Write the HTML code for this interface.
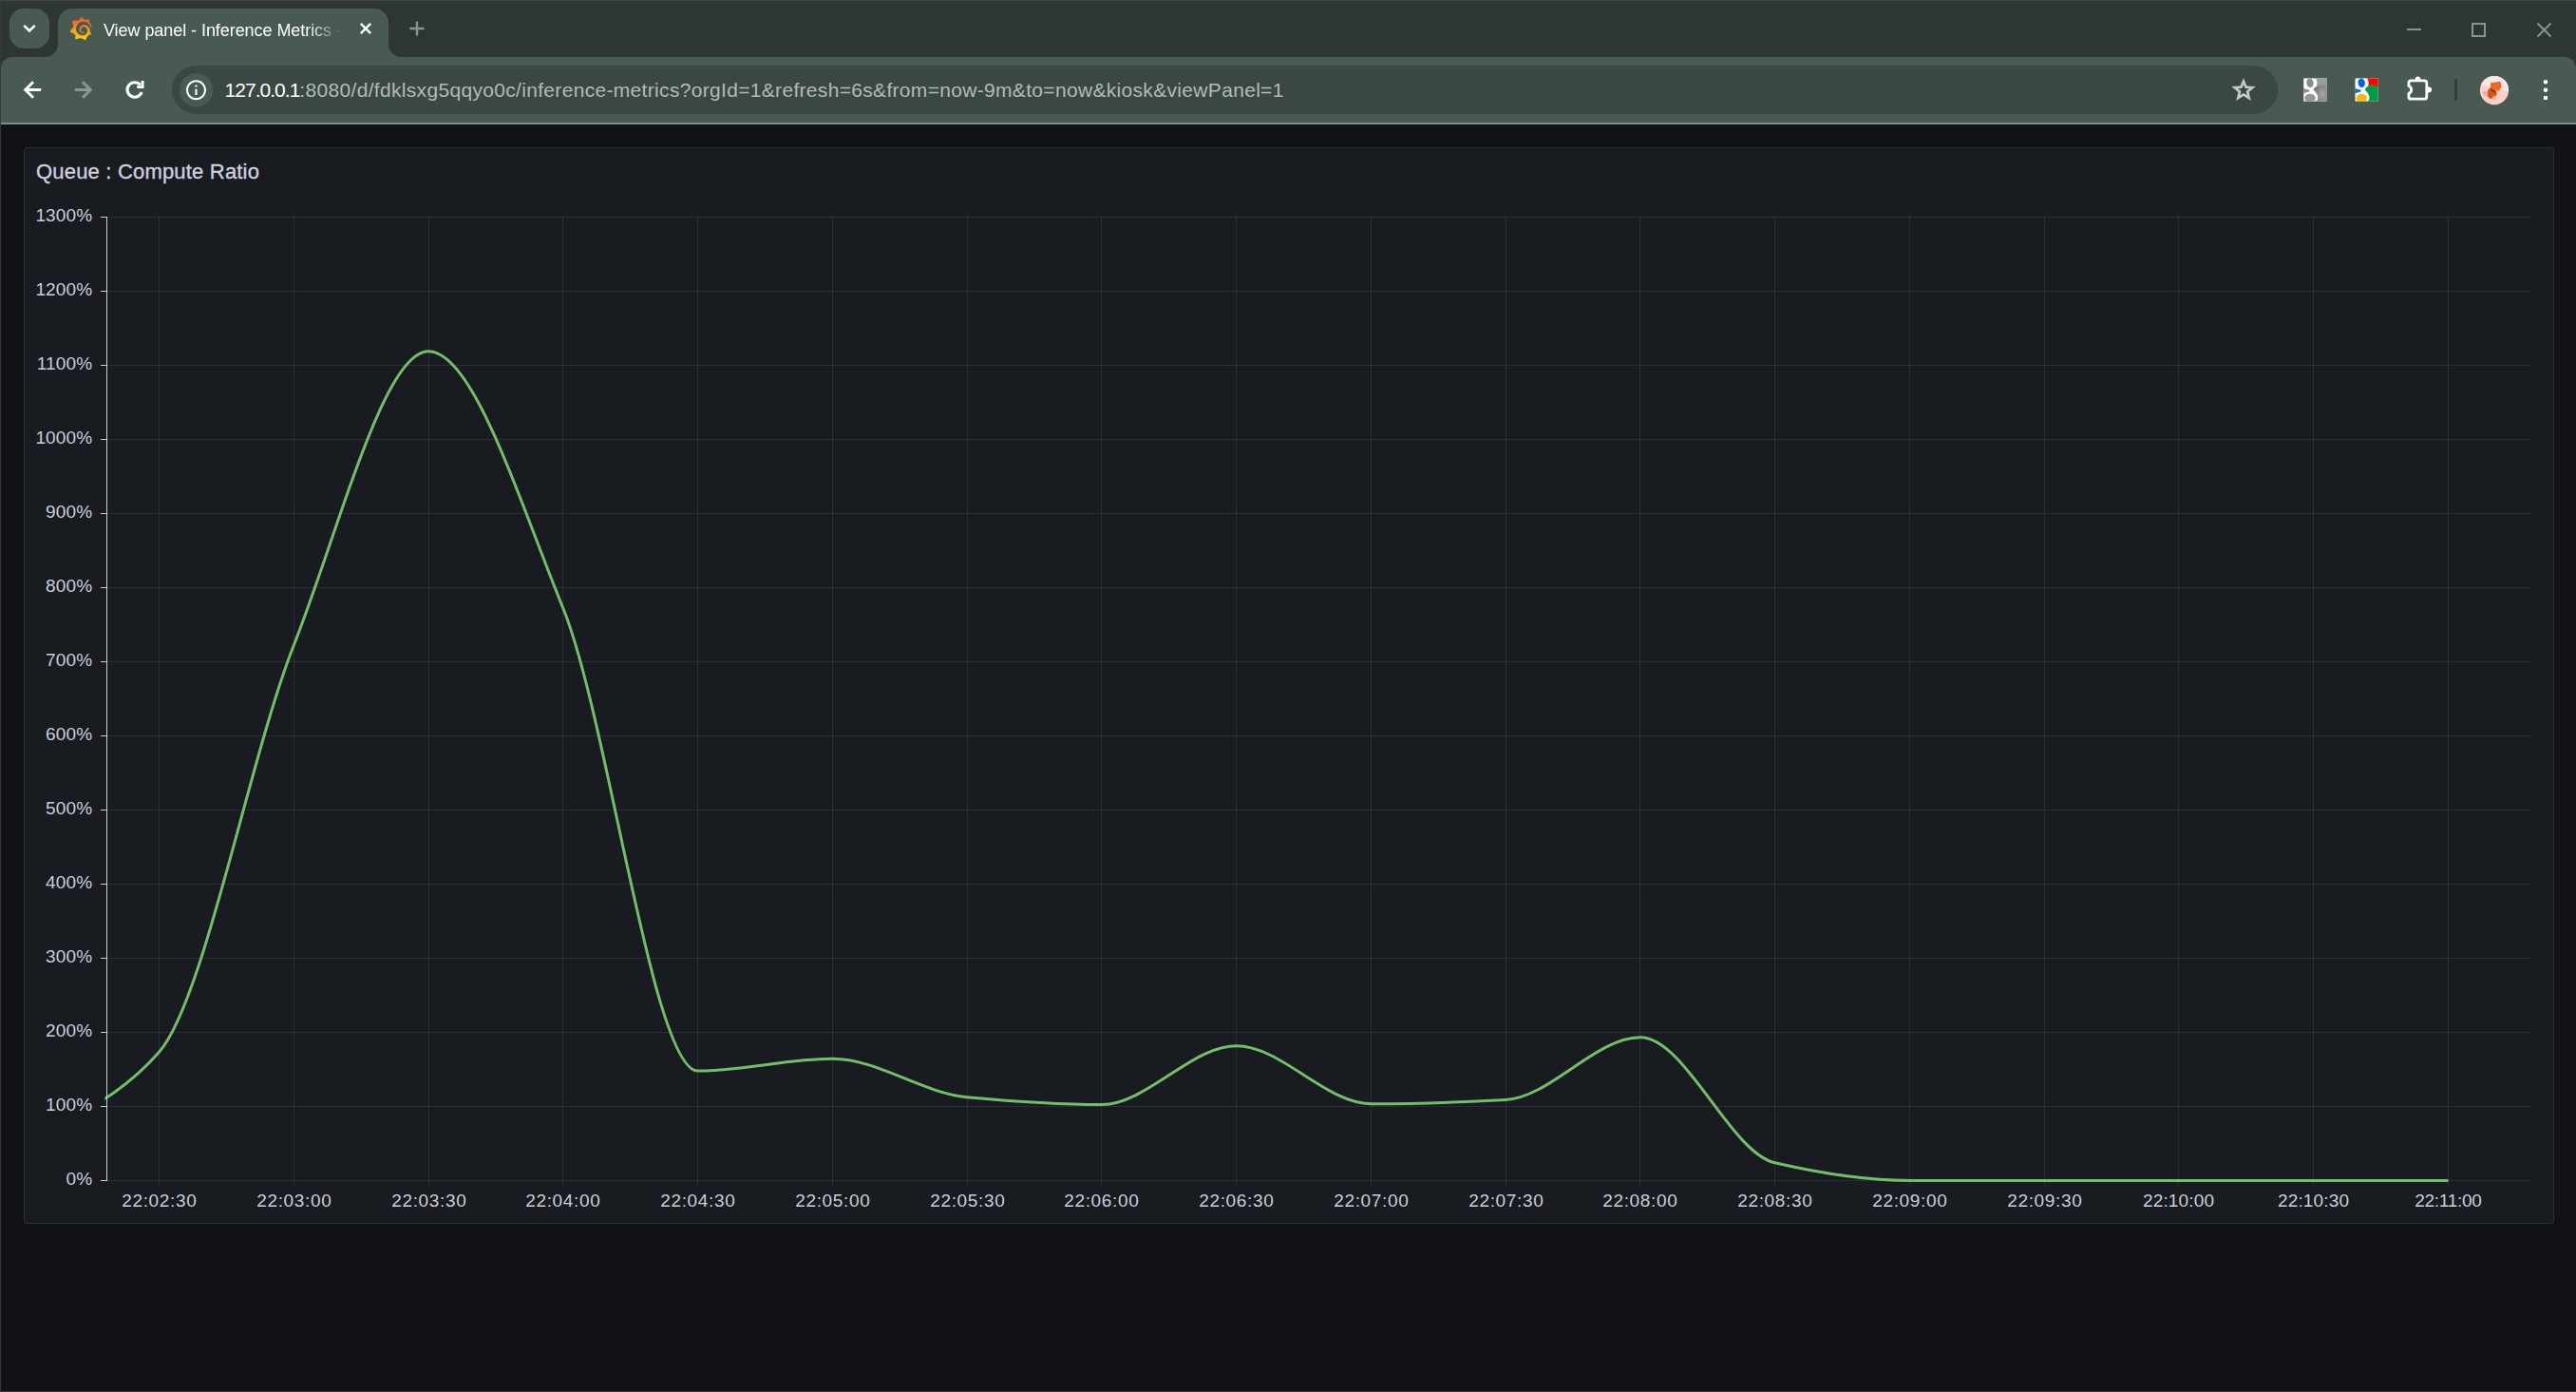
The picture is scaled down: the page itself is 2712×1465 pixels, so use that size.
<!DOCTYPE html>
<html><head><meta charset="utf-8"><title>View panel - Inference Metrics</title>
<style>
html,body{margin:0;padding:0}
body{width:2712px;height:1465px;background:#111217;position:relative;overflow:hidden;font-family:"Liberation Sans",sans-serif;}
.abs{position:absolute}
#panel{position:absolute;left:25px;top:155px;width:2662px;height:1131px;background:#181b1f;border:1px solid #2c2f34;border-radius:3px}
#ptitle{position:absolute;left:38px;top:167px;font-size:22px;line-height:28px;color:#d0d0e0;letter-spacing:0.19px;white-space:nowrap;-webkit-text-stroke:0.35px #d0d0e0}
.yl{position:absolute;left:0;width:97.3px;text-align:right;font-size:19px;line-height:20px;color:#ccccdc;white-space:nowrap;letter-spacing:0.15px}
.xl{position:absolute;top:1254px;width:120px;text-align:center;font-size:19px;line-height:20px;color:#ccccdc;white-space:nowrap;letter-spacing:0.45px}
</style></head>
<body>
<!-- ===== browser chrome ===== -->
<div class="abs" style="left:0;top:0;width:2712px;height:131px;background:#2d3633"></div>
<div class="abs" style="left:0;top:0;width:2712px;height:1px;background:#3f4644"></div>
<svg class="abs" style="left:0;top:0" width="2712" height="131" viewBox="0 0 2712 131">
  <!-- toolbar + active tab -->
  <path fill="#495a53" d="M1 129V72A12 12 0 0 1 13 60H47A14 14 0 0 0 61 46V24A15 15 0 0 1 76 9H394A15 15 0 0 1 409 24V46A14 14 0 0 0 423 60H2700A12 12 0 0 1 2712 72V129Z"/>
  <rect x="1" y="129" width="2711" height="2" fill="#7a8d84"/>
  <!-- tab search button -->
  <rect x="10" y="9" width="42" height="42" rx="15" fill="#495a53"/>
  <path d="M25.3 26.8L31 32.5L36.7 26.8" fill="none" stroke="#fff" stroke-width="2.6"/>
  <!-- tab close -->
  <path d="M379.8 24.8L390.2 35.2M390.2 24.8L379.8 35.2" stroke="#fff" stroke-width="2.4" fill="none"/>
  <!-- new tab plus -->
  <path d="M431.5 30H446.5M439 22.5V37.5" stroke="#87948f" stroke-width="2.4" fill="none"/>
  <!-- window controls -->
  <g stroke="#88948f" stroke-width="2" fill="none">
    <path d="M2534 31H2549"/>
    <rect x="2603" y="25" width="13" height="13"/>
    <path d="M2671.5 24.5L2685.5 38.5M2685.5 24.5L2671.5 38.5"/>
  </g>
  <!-- back -->
  <path d="M35 86.2L26.7 94.5L35 102.8M27 94.5H43.2" stroke="#fff" stroke-width="3" fill="none"/>
  <!-- forward -->
  <path d="M87 86.2L95.3 94.5L87 102.8M95 94.5H78.8" stroke="#8a9893" stroke-width="3" fill="none"/>
  <!-- reload -->
  <g fill="none" stroke="#fff">
    <path d="M147.7 89.4A7.75 7.75 0 1 0 149.1 97.05" stroke-width="3.1"/>
    <path d="M150.1 85V91.6H144.2" stroke-width="2.9"/>
  </g>
  <!-- omnibox -->
  <rect x="181" y="69" width="2217" height="51" rx="25.5" fill="#3b4743"/>
  <circle cx="206.6" cy="94.7" r="17.8" fill="#495a53"/>
  <g transform="translate(193.9 82.1) scale(1.05)">
    <path fill="#fff" d="M11 17h2v-6h-2v6zm1-15C6.48 2 2 6.48 2 12s4.48 10 10 10 10-4.48 10-10S17.52 2 12 2zm0 18c-4.41 0-8-3.59-8-8s3.59-8 8-8 8 3.59 8 8-3.59 8-8 8zM11 9h2V7h-2v2z"/>
  </g>
  <!-- star -->
  <path fill="#c7cac9" fill-rule="evenodd" d="M2362.00 81.90L2365.47 90.43L2374.65 91.09L2367.61 97.02L2369.82 105.96L2362.00 101.10L2354.18 105.96L2356.39 97.02L2349.35 91.09L2358.53 90.43ZM2362.00 88.90L2363.65 92.93L2367.99 93.25L2364.66 96.07L2365.70 100.30L2362.00 98.00L2358.30 100.30L2359.34 96.07L2356.01 93.25L2360.35 92.93Z"/>
  <!-- gray g extension -->
  <defs>
    <clipPath id="gc"><rect x="0" y="0" width="24.5" height="24.5"/></clipPath>
    <radialGradient id="ggr" cx="0.7" cy="0.55" r="0.6"><stop offset="0" stop-color="#a8a8a8"/><stop offset="1" stop-color="#7c7c7c"/></radialGradient>
  </defs>
  <g transform="translate(2425.1 82.2)" clip-path="url(#gc)">
    <rect width="24.5" height="24.5" fill="#fff"/>
    <path d="M12.6 0H24.5V10C22.5 8.2 19.5 7.2 16.5 7.7L13.6 8.6C14.9 5.6 14.6 2.4 12.6 0Z" fill="#9a9a9a"/>
    <path d="M10.3 11.8C12 9.2 15.5 7.4 19 7.4C21.2 7.4 23.2 8.4 24.5 9.8V24.5H13.7C15.4 22.4 15.6 19.8 14.5 17.6C13.6 15.6 11.6 13.6 10.3 11.8Z" fill="url(#ggr)"/>
    <ellipse cx="6.9" cy="5.1" rx="3.7" ry="4.7" transform="rotate(-8 6.9 5.1)" fill="#8b8b8b"/>
    <path d="M0 10.1C1.5 11.5 3.6 12.3 6 12.4L6.4 14.2C4 14.6 1.5 15.3 0 16.3Z" fill="#8b8b8b"/>
    <path d="M0 0H1.5C0.7 0.6 0.3 1.3 0 2.1Z" fill="#8b8b8b"/>
    <ellipse cx="6.9" cy="21" rx="5.7" ry="4.4" fill="#979797"/>
    <rect x="0" y="0" width="24.5" height="24.5" fill="none" stroke="#b5b5b5" stroke-width="0.8" opacity="0.6"/>
  </g>
  <!-- colour g extension -->
  <g transform="translate(2479.3 82.2)" clip-path="url(#gc)">
    <rect width="24.5" height="24.5" fill="#fff"/>
    <path d="M12.6 0H24.5V10C22.5 8.2 19.5 7.2 16.5 7.7L13.6 8.6C14.9 5.6 14.6 2.4 12.6 0Z" fill="#fe0000"/>
    <path d="M10.3 11.8C12 9.2 15.5 7.4 19 7.4C21.2 7.4 23.2 8.4 24.5 9.8V24.5H13.7C15.4 22.4 15.6 19.8 14.5 17.6C13.6 15.6 11.6 13.6 10.3 11.8Z" fill="#009a44"/>
    <ellipse cx="6.9" cy="5.1" rx="3.7" ry="4.7" transform="rotate(-8 6.9 5.1)" fill="#0266d6"/>
    <path d="M0 10.1C1.5 11.5 3.6 12.3 6 12.4L6.4 14.2C4 14.6 1.5 15.3 0 16.3Z" fill="#0266d6"/>
    <path d="M0 0H1.5C0.7 0.6 0.3 1.3 0 2.1Z" fill="#0266d6"/>
    <ellipse cx="6.9" cy="21" rx="5.7" ry="4.4" fill="#f2b817"/>
    
  </g>
  <!-- extensions puzzle -->
  <g>
    <path d="M2535.9 90.5V87.35a2.5 2.5 0 0 1 2.5-2.5H2552.3a2.5 2.5 0 0 1 2.5 2.5V101.7a2.5 2.5 0 0 1-2.5 2.5H2538.4a2.5 2.5 0 0 1-2.5-2.5V98.3A4.1 4.1 0 0 0 2535.9 90.5Z" fill="none" stroke="#fff" stroke-width="2.8" stroke-linejoin="round"/>
    <path d="M2541.3 84.9C2543 84.7 2542.4 82.6 2543.2 81.6A3 3 0 0 1 2547.8 81.6C2548.6 82.6 2548 84.7 2549.7 84.9Z" fill="#fff"/>
    <path d="M2555.8 90.2C2556 91.9 2558.1 91.3 2559.1 92.1A3 3 0 0 1 2559.1 96.7C2558.1 97.5 2556 96.9 2555.8 98.6Z" fill="#fff"/>
  </g>
  <!-- separator -->
  <rect x="2584.2" y="83" width="2.8" height="23" rx="1.4" fill="#303b37"/>
  <!-- avatar -->
  <g>
    <defs><clipPath id="av"><circle cx="2626" cy="95.05" r="15.1"/></clipPath></defs>
    <g clip-path="url(#av)">
      <rect x="2610" y="79" width="32" height="32" fill="#fdcfca"/>
      <path d="M2610 79H2642V96.6L2610 88.7Z" fill="#fae6ea"/>
      <path d="M2613 96.5L2619.5 96L2619.5 102.5L2615 100Z" fill="#eaaca7"/>
      <path d="M2622 87.2L2632.4 85.8L2633.7 91.5L2630.9 95.7L2626.8 96L2622 92.5Z" fill="#ea6a22"/>
      <path d="M2622 92.3L2626.8 95.5L2628.9 98L2627.7 100.9L2625.1 101.7L2623.4 103.7L2620.5 103.4L2619.1 100.9L2619.2 95.1Z" fill="#d4541a"/>
      <path d="M2622.2 94.2L2628 97.4" stroke="#7c2c10" stroke-width="1.4" fill="none"/>
      <circle cx="2628.6" cy="96.2" r="1.1" fill="#f2c556"/>
      <circle cx="2626" cy="103" r="1.9" fill="#e8b765"/>
    </g>
  </g>
  <!-- menu dots -->
  <g fill="#fff"><circle cx="2680" cy="86.3" r="2.3"/><circle cx="2680" cy="94.7" r="2.3"/><circle cx="2680" cy="103" r="2.3"/></g>
  <!-- favicon (grafana) -->
  <g transform="translate(73.2 17.6) scale(0.0675)">
    <defs><linearGradient id="gf" gradientUnits="userSpaceOnUse" x1="175.5" y1="445.4" x2="175.5" y2="30"><stop offset="0" stop-color="#fff100"/><stop offset="1" stop-color="#f05a28"/></linearGradient></defs>
    <path fill="url(#gf)" d="M342 161.2c-.6-6.1-1.600-13.100-3.600-20.900-2-7.700-5-16.200-9.400-25-4.400-8.800-10.100-17.900-17.500-26.800-2.900-3.500-6.100-6.900-9.500-10.200 5.100-20.300-6.200-37.900-6.200-37.900-19.500-1.200-31.900 6.100-36.500 9.400-.800-.300-1.500-.700-2.300-1-3.300-1.300-6.700-2.600-10.300-3.700-3.500-1.100-7.100-2.100-10.800-3-3.700-.900-7.400-1.600-11.200-2.200-.700-.100-1.300-.200-2-.300-8.500-27.200-32.900-38.600-32.900-38.600-27.300 17.300-32.400 41.500-32.400 41.500s-.100.500-.300 1.400c-1.500.400-3 .900-4.500 1.300-2.100.600-4.200 1.400-6.200 2.200-2.100.800-4.100 1.600-6.200 2.500-4.100 1.800-8.200 3.800-12.200 6-3.900 2.200-7.700 4.600-11.400 7.100-.500-.200-1-.400-1-.400-37.800-14.400-71.300 2.900-71.300 2.900-3.100 40.200 15.100 65.500 18.700 70.100-.900 2.500-1.700 5-2.500 7.500-2.800 9.100-4.900 18.400-6.200 28.100-.200 1.400-.400 2.800-.500 4.200C18.800 192.700 8.500 228 8.500 228c29.100 33.500 63.100 35.600 63.100 35.600 0 0 .100-.100.100-.100 4.300 7.700 9.300 15 14.900 21.900 2.400 2.900 4.800 5.600 7.400 8.300-10.600 30.400 1.500 55.600 1.500 55.600 32.400 1.200 53.700-14.200 58.200-17.700 3.200 1.100 6.500 2.100 9.800 2.900 10 2.600 20.200 4.100 30.400 4.500 2.500.100 5.100.200 7.600.100h1.200l.800 0 1.600 0 1.600-.100 0 .100c15.300 21.800 42.100 24.900 42.100 24.900 19.100-20.100 20.200-40.100 20.200-44.400l0 0c0 0 0-.100 0-.300 0-.400 0-.600 0-.600l0 0c0-.300 0-.600 0-.900 4-2.800 7.800-5.800 11.400-9.100 7.600-6.900 14.300-14.800 19.900-23.300.500-.800 1-1.600 1.500-2.400 21.600 1.200 36.900-13.400 36.900-13.400-3.600-22.500-16.400-33.500-19.100-35.600l0 0c0 0-.100-.100-.300-.200-.200-.100-.200-.200-.200-.200 0 0 0 0 0 0-.100-.100-.300-.200-.500-.300.100-1.400.200-2.700.300-4.100.200-2.400.200-4.900.200-7.300v-1.800l0-.900 0-.500c0-.600 0-.400 0-.600l-.100-1.500-.100-2c0-.700-.100-1.300-.200-1.900-.100-.600-.100-1.300-.200-1.900l-.200-1.900-.300-1.900c-.400-2.500-.800-4.900-1.400-7.400-2.300-9.700-6.100-18.900-11-27.200-5-8.300-11.200-15.600-18.300-21.800-7-6.200-14.900-11.200-23.100-14.900-8.300-3.700-16.900-6.100-25.500-7.200-4.300-.600-8.600-.800-12.900-.700l-1.600 0-.4 0c-.1 0-.6 0-.5 0l-.7 0-1.600.1c-.6 0-1.200.1-1.700.1-2.200.2-4.400.5-6.500.9-8.600 1.600-16.700 4.700-23.800 9-7.100 4.300-13.300 9.600-18.300 15.600-5 6-8.900 12.700-11.600 19.600-2.700 6.900-4.200 14.100-4.600 21-.1 1.700-.1 3.500-.1 5.200 0 .4 0 .9 0 1.300l.1 1.400c.1.800.1 1.700.2 2.500.3 3.500 1 6.900 1.900 10.100 1.900 6.500 4.900 12.400 8.600 17.400 3.700 5 8.200 9.100 12.900 12.400 4.700 3.200 9.800 5.500 14.800 7 5 1.500 10 2.100 14.700 2.100.6 0 1.200 0 1.700 0 .3 0 .6 0 .9 0 .3 0 .6 0 .9-.1.500 0 1-.1 1.500-.1.100 0 .3 0 .4-.1l.5-.1c.3 0 .6-.1.900-.1.600-.1 1.100-.2 1.700-.3.600-.1 1.100-.2 1.600-.4 1.100-.2 2.100-.6 3.100-.9 2-.7 4-1.500 5.700-2.400 1.800-.9 3.400-2 5-3 .4-.3.900-.6 1.300-1 1.600-1.300 1.900-3.700.6-5.300-1.100-1.400-3.100-1.800-4.700-.9-.4.200-.8.4-1.200.6-1.400.7-2.800 1.300-4.300 1.800-1.500.5-3.100.9-4.700 1.200-.8.100-1.600.2-2.500.3-.4 0-.8.1-1.300.1-.4 0-.9 0-1.200 0-.4 0-.8 0-1.200 0-.5 0-1 0-1.500-.1 0 0-.3 0-.1 0l-.2 0-.3 0c-.2 0-.5 0-.7-.1-.5-.1-.9-.1-1.400-.2-3.700-.5-7.400-1.600-10.900-3.200-3.600-1.600-7-3.800-10.100-6.600-3.100-2.800-5.800-6.100-7.900-9.900-2.100-3.800-3.600-8-4.300-12.400-.3-2.200-.5-4.500-.4-6.700 0-.6.100-1.200.1-1.800 0 .2 0-.1 0-.1l0-.2 0-.5c0-.3.1-.6.1-.9.100-1.200.3-2.400.5-3.600 1.700-9.600 6.500-19 13.900-26.100 1.900-1.800 3.900-3.400 6-4.900 2.100-1.500 4.400-2.800 6.800-3.900 2.400-1.100 4.800-2 7.400-2.700 2.500-.7 5.100-1.100 7.800-1.400 1.300-.1 2.600-.2 4-.2.400 0 .6 0 .9 0l1.100 0 .7 0c.3 0 0 0 .1 0l.3 0 1.100.1c2.900.2 5.700.6 8.500 1.300 5.600 1.200 11.100 3.300 16.200 6.100 10.200 5.700 18.900 14.500 24.200 25.100 2.700 5.300 4.600 11 5.500 16.900.2 1.500.4 3 .5 4.500l.1 1.100.1 1.100c0 .4 0 .8 0 1.100 0 .4 0 .8 0 1.100v1l0 1.100c0 .7-.1 1.900-.1 2.600-.1 1.600-.3 3.300-.5 4.900-.2 1.600-.5 3.200-.8 4.800-.3 1.600-.7 3.200-1.100 4.700-.8 3.100-1.800 6.200-3 9.300-2.400 6-5.600 11.800-9.400 17.100-7.700 10.600-18.200 19.200-30.200 24.700-6 2.700-12.300 4.700-18.800 5.700-3.200.6-6.500.9-9.800 1l-.6 0-.5 0-1.100 0-1.600 0-.8 0c.4 0-.1 0-.1 0l-.3 0c-1.800 0-3.500-.1-5.300-.3-7-.5-13.900-1.800-20.700-3.700-6.700-1.900-13.200-4.600-19.400-7.800-12.300-6.600-23.400-15.600-32-26.500-4.300-5.400-8.100-11.300-11.200-17.400-3.100-6.100-5.600-12.600-7.400-19.100-1.800-6.600-2.900-13.300-3.400-20.100l-.1-1.300 0-.3 0-.3 0-.6 0-1.100 0-.3 0-.4 0-.8 0-1.600 0-.3c0 0 0 .1 0-.1l0-.6c0-.8 0-1.700 0-2.500.1-3.300.4-6.800.8-10.200.4-3.400 1-6.900 1.700-10.300.7-3.400 1.500-6.800 2.500-10.200 1.900-6.700 4.300-13.200 7.100-19.300 5.700-12.200 13.100-23.100 22-31.800 2.200-2.200 4.500-4.200 6.900-6.200 2.400-1.900 4.900-3.700 7.500-5.400 2.500-1.700 5.200-3.200 7.900-4.600 1.300-.7 2.700-1.400 4.100-2 .7-.3 1.400-.6 2.100-.9.700-.3 1.400-.6 2.100-.9 2.800-1.200 5.700-2.200 8.700-3.100.7-.2 1.500-.4 2.200-.7.700-.2 1.500-.4 2.200-.6 1.500-.4 3-.8 4.500-1.100.7-.2 1.500-.3 2.300-.5.800-.2 1.500-.3 2.300-.5.800-.1 1.500-.3 2.300-.4l1.100-.2 1.200-.2c.8-.1 1.500-.2 2.300-.3.900-.1 1.700-.2 2.600-.3.700-.1 1.900-.2 2.600-.3.500-.1 1.100-.1 1.600-.2l1.100-.1.500-.1.600 0c.9-.1 1.700-.1 2.600-.2l1.300-.1c0 0 .5 0 .1 0l.3 0 .6 0c.7 0 1.500-.1 2.200-.1 2.900-.1 5.900-.1 8.800 0 5.800.2 11.500.9 17 1.900 11.100 2.100 21.500 5.600 31 10.300 9.500 4.600 17.900 10.300 25.300 16.500.5.400.9.800 1.400 1.200.4.400.9.800 1.300 1.200.9.800 1.700 1.600 2.600 2.400.9.800 1.700 1.600 2.500 2.400.8.800 1.600 1.600 2.400 2.500 3.100 3.300 6 6.600 8.600 10 5.200 6.700 9.400 13.500 12.700 19.900.2.400.4.800.6 1.200.2.400.4.800.6 1.200.4.800.8 1.600 1.100 2.400.4.800.7 1.500 1.100 2.300.3.800.7 1.500 1 2.300 1.200 3 2.400 5.900 3.300 8.600 1.500 4.400 2.600 8.300 3.500 11.700.3 1.400 1.600 2.300 3 2.100 1.500-.1 2.600-1.300 2.600-2.800.1-3.700 0-8-.4-12.900z"/>
  </g>
</svg>
<div class="abs" id="tabtitle" style="left:109px;top:19px;width:258px;height:26px;overflow:hidden;white-space:nowrap;font-size:18px;line-height:26px;color:#fff;letter-spacing:-0.06px;-webkit-mask-image:linear-gradient(90deg,#000 0,#000 214px,transparent 252px);mask-image:linear-gradient(90deg,#000 0,#000 214px,transparent 252px)">View panel - Inference Metrics - Dashboards - Grafana</div>
<div class="abs" id="url" style="left:236.6px;top:80px;height:30px;white-space:nowrap;font-size:21px;line-height:30px;color:#b1bbb6"><span style="color:#fff;letter-spacing:-0.98px">127.0.0.1</span><span style="letter-spacing:0.32px">:8080/d/fdklsxg5qqyo0c/inference-metrics?orgId=1&amp;refresh=6s&amp;from=now-9m&amp;to=now&amp;kiosk&amp;viewPanel=1</span></div>

<div id="panel"></div>
<div id="ptitle">Queue : Compute Ratio</div>
<svg id="chart" width="2712" height="1465" viewBox="0 0 2712 1465" style="position:absolute;left:0;top:0">
<defs><clipPath id="plotclip"><rect x="110.5" y="200" width="2553.5" height="1060"/></clipPath></defs>
<g fill="rgba(240,250,255,0.09)" shape-rendering="crispEdges">
<rect x="113" y="228" width="2551" height="1"/>
<rect x="113" y="306" width="2551" height="1"/>
<rect x="113" y="384" width="2551" height="1"/>
<rect x="113" y="462" width="2551" height="1"/>
<rect x="113" y="540" width="2551" height="1"/>
<rect x="113" y="618" width="2551" height="1"/>
<rect x="113" y="696" width="2551" height="1"/>
<rect x="113" y="774" width="2551" height="1"/>
<rect x="113" y="852" width="2551" height="1"/>
<rect x="113" y="930" width="2551" height="1"/>
<rect x="113" y="1008" width="2551" height="1"/>
<rect x="113" y="1086" width="2551" height="1"/>
<rect x="113" y="1164" width="2551" height="1"/>
<rect x="113" y="1242" width="2551" height="1"/>
<rect x="167" y="228" width="1" height="1021"/>
<rect x="309" y="228" width="1" height="1021"/>
<rect x="451" y="228" width="1" height="1021"/>
<rect x="592" y="228" width="1" height="1021"/>
<rect x="734" y="228" width="1" height="1021"/>
<rect x="876" y="228" width="1" height="1021"/>
<rect x="1018" y="228" width="1" height="1021"/>
<rect x="1159" y="228" width="1" height="1021"/>
<rect x="1301" y="228" width="1" height="1021"/>
<rect x="1443" y="228" width="1" height="1021"/>
<rect x="1585" y="228" width="1" height="1021"/>
<rect x="1726" y="228" width="1" height="1021"/>
<rect x="1868" y="228" width="1" height="1021"/>
<rect x="2010" y="228" width="1" height="1021"/>
<rect x="2152" y="228" width="1" height="1021"/>
<rect x="2293" y="228" width="1" height="1021"/>
<rect x="2435" y="228" width="1" height="1021"/>
<rect x="2577" y="228" width="1" height="1021"/>
</g>
<path d="M25.74 1207.00C72.99 1173.77 120.25 1161.21 167.50 1107.30C214.75 1053.39 262.01 799.07 309.26 679.30C356.51 559.53 403.77 369.70 451.02 369.70C498.27 369.70 545.53 524.11 592.78 640.00C640.03 755.89 687.29 1127.10 734.54 1127.10C781.79 1127.10 829.05 1114.30 876.30 1114.30C923.55 1114.30 970.81 1150.34 1018.06 1154.70C1065.31 1159.06 1112.57 1162.50 1159.82 1162.50C1207.07 1162.50 1254.33 1100.70 1301.58 1100.70C1348.83 1100.70 1396.09 1161.70 1443.34 1161.70C1490.59 1161.70 1537.85 1160.13 1585.10 1157.50C1632.35 1154.87 1679.61 1091.80 1726.86 1091.80C1774.11 1091.80 1821.37 1212.88 1868.62 1223.80C1915.87 1234.72 1963.13 1242.50 2010.38 1242.50C2057.63 1242.50 2104.89 1242.50 2152.14 1242.50C2199.39 1242.50 2246.65 1242.50 2293.90 1242.50C2341.15 1242.50 2388.41 1242.50 2435.66 1242.50C2482.91 1242.50 2530.17 1242.50 2577.42 1242.50" fill="none" stroke="#73bf69" stroke-width="3" stroke-linejoin="round" clip-path="url(#plotclip)"/>
<g fill="#ccccdc" shape-rendering="crispEdges">
<rect x="112" y="228" width="1" height="1015"/>
<rect x="106" y="228" width="6" height="1"/>
<rect x="106" y="306" width="6" height="1"/>
<rect x="106" y="384" width="6" height="1"/>
<rect x="106" y="462" width="6" height="1"/>
<rect x="106" y="540" width="6" height="1"/>
<rect x="106" y="618" width="6" height="1"/>
<rect x="106" y="696" width="6" height="1"/>
<rect x="106" y="774" width="6" height="1"/>
<rect x="106" y="852" width="6" height="1"/>
<rect x="106" y="930" width="6" height="1"/>
<rect x="106" y="1008" width="6" height="1"/>
<rect x="106" y="1086" width="6" height="1"/>
<rect x="106" y="1164" width="6" height="1"/>
<rect x="106" y="1242" width="6" height="1"/>
</g>
</svg>
<div class="yl" style="top:217px">1300%</div><div class="yl" style="top:295px">1200%</div><div class="yl" style="top:373px">1100%</div><div class="yl" style="top:451px">1000%</div><div class="yl" style="top:529px">900%</div><div class="yl" style="top:607px">800%</div><div class="yl" style="top:685px">700%</div><div class="yl" style="top:763px">600%</div><div class="yl" style="top:841px">500%</div><div class="yl" style="top:919px">400%</div><div class="yl" style="top:997px">300%</div><div class="yl" style="top:1075px">200%</div><div class="yl" style="top:1153px">100%</div><div class="yl" style="top:1231px">0%</div>
<div class="xl" style="left:107.8px;letter-spacing:0.65px">22:02:30</div><div class="xl" style="left:249.8px;letter-spacing:0.65px">22:03:00</div><div class="xl" style="left:391.8px;letter-spacing:0.65px">22:03:30</div><div class="xl" style="left:532.8px;letter-spacing:0.65px">22:04:00</div><div class="xl" style="left:674.8px;letter-spacing:0.65px">22:04:30</div><div class="xl" style="left:816.8px;letter-spacing:0.65px">22:05:00</div><div class="xl" style="left:958.8px;letter-spacing:0.65px">22:05:30</div><div class="xl" style="left:1099.8px;letter-spacing:0.65px">22:06:00</div><div class="xl" style="left:1241.8px;letter-spacing:0.65px">22:06:30</div><div class="xl" style="left:1383.8px;letter-spacing:0.65px">22:07:00</div><div class="xl" style="left:1525.8px;letter-spacing:0.65px">22:07:30</div><div class="xl" style="left:1666.8px;letter-spacing:0.65px">22:08:00</div><div class="xl" style="left:1808.8px;letter-spacing:0.65px">22:08:30</div><div class="xl" style="left:1950.8px;letter-spacing:0.65px">22:09:00</div><div class="xl" style="left:2092.8px;letter-spacing:0.65px">22:09:30</div><div class="xl" style="left:2233.6px;letter-spacing:0.18px">22:10:00</div><div class="xl" style="left:2375.6px;letter-spacing:0.18px">22:10:30</div><div class="xl" style="left:2517.4px;letter-spacing:-0.28px">22:11:00</div>
<div class="abs" style="left:0;top:0;width:1px;height:1465px;background:#383a3a"></div>
<div class="abs" style="left:0;top:1464px;width:2712px;height:1px;background:#343536"></div>
</body></html>
